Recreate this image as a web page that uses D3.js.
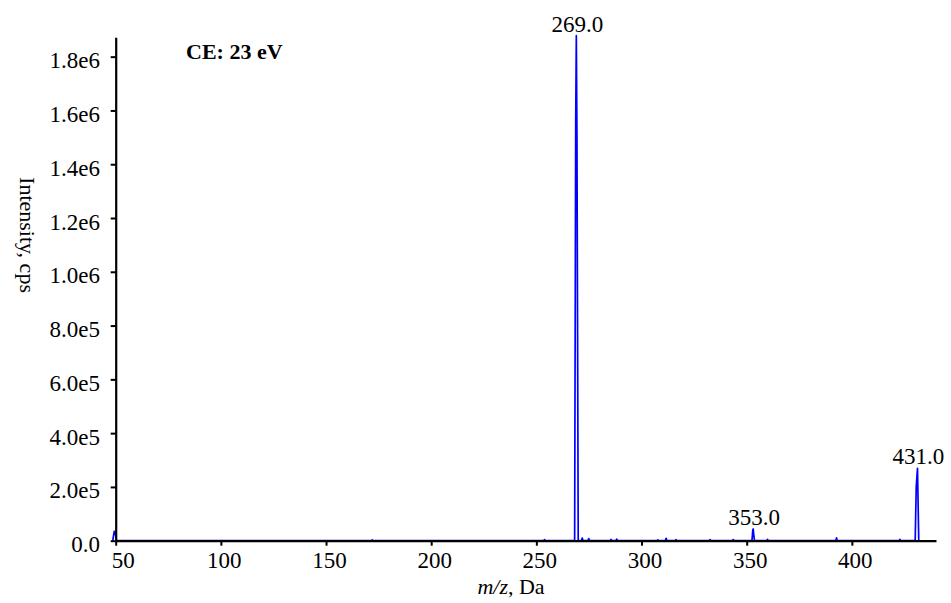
<!DOCTYPE html>
<html>
<head>
<meta charset="utf-8">
<script src="https://cdn.jsdelivr.net/npm/d3@7"></script>
<style>
  html, body { margin: 0; padding: 0; background: #fff; }
  svg text { font-family: "Liberation Serif", "Times New Roman", serif; fill: #000; }
</style>
</head>
<body>
<svg id="chart"></svg>
<script>
// Product-ion spectrum, profile points (m/z, cps)
const mz = [
  48.6, 49.3, 49.8, 50.4,
  171.6, 172.0, 172.4,
  253.5, 253.9, 254.3,
  268.2, 268.7, 269.0, 269.3, 269.9,
  271.4, 271.8, 272.2,
  274.5, 274.9, 275.3,
  285.1, 285.5, 285.9,
  287.8, 288.2, 288.6,
  307.3, 307.7, 308.1,
  311.3, 311.7, 312.1,
  316.0, 316.4, 316.8,
  332.2, 332.6, 333.0,
  343.2, 343.6, 344.0,
  352.5, 352.9, 353.1, 353.4, 353.7,
  359.6, 359.9, 360.2,
  392.4, 392.7, 393.0,
  422.5, 422.8, 423.1,
  430.1, 430.6, 431.2, 431.8
];
const intensity = [
  0, 35000, 28000, 0,
  0, 3000, 0,
  0, 4000, 0,
  0, 1550000, 1878000, 1500000, 0,
  0, 10000, 0,
  0, 8000, 0,
  0, 5000, 0,
  0, 6000, 0,
  0, 3000, 0,
  0, 9000, 0,
  0, 4000, 0,
  0, 4000, 0,
  0, 4000, 0,
  0, 40000, 43500, 20000, 0,
  0, 5000, 0,
  0, 11000, 0,
  0, 5000, 0,
  0, 200000, 269000, 0
];

// annotated peaks
const peakLabels = ["269.0", "353.0", "431.0"];
const peakMz = [269.0, 353.1, 431.2];

const xTicks = [50, 100, 150, 200, 250, 300, 350, 400];
const xMinor = d3.range(60, 441, 10).filter(v => v % 50 !== 0);
const yTicks = [0, 2e5, 4e5, 6e5, 8e5, 1e6, 1.2e6, 1.4e6, 1.6e6, 1.8e6];
const yMinor = [1e5, 3e5, 5e5, 7e5, 9e5, 1.1e6, 1.3e6, 1.5e6, 1.7e6];

const W = 951, H = 603;
const svg = d3.select("#chart").attr("width", W).attr("height", H);

const x = d3.scaleLinear().domain([50, 440]).range([115.7, 936]);
const y = d3.scaleLinear().domain([0, 1.872e6]).range([540.7, 37.3]);

const fmtY = v => {
  if (v === 0) return "0.0";
  const e = Math.floor(Math.log10(v));
  return (v / Math.pow(10, e)).toFixed(1) + "e" + e;
};

// spectrum
const pts = mz.map((m, i) => ({ mz: m, v: intensity[i] }));
svg.append("path").datum(pts)
  .attr("fill", "none").attr("stroke", "#0000ff").attr("stroke-width", 1.7)
  .attr("stroke-linejoin", "round")
  .attr("d", d3.line().x(d => x(d.mz)).y(d => y(d.v)));

// axes
const fs = "23px";
const gx = svg.append("g").attr("transform", `translate(0,${y(0)})`);
gx.call(d3.axisBottom(x).tickValues(xMinor).tickSize(3).tickSizeOuter(0).tickFormat(""));
gx.call(d3.axisBottom(x).tickValues(xTicks).tickSize(5).tickSizeOuter(0).tickFormat(d3.format("d")));
gx.selectAll("text").attr("y", 27).attr("dy", null)
  .attr("dx", d => d === 50 ? 7 : 3).style("font-size", fs);

const gy = svg.append("g").attr("transform", `translate(${x(50)},0)`);
gy.call(d3.axisLeft(y).tickValues(yMinor).tickSize(3).tickSizeOuter(0).tickFormat(""));
gy.call(d3.axisLeft(y).tickValues(yTicks).tickSize(5).tickSizeOuter(0).tickFormat(fmtY));
gy.selectAll("text").attr("x", -15.7).attr("dy", null).attr("y", 11).style("font-size", fs);

svg.selectAll(".domain").attr("stroke", "#000").attr("stroke-width", 2.2);
svg.selectAll(".tick line").attr("stroke", "#000").attr("stroke-width", 2);

// peak labels
peakMz.forEach((m, i) => {
  const top = d3.max(pts.filter(p => Math.abs(p.mz - m) < 0.05), p => p.v);
  svg.append("text")
    .attr("x", x(m) + 1).attr("y", y(top) - 4)
    .attr("text-anchor", "middle").style("font-size", fs)
    .text(peakLabels[i]);
});

// annotation
svg.append("text").attr("x", 186).attr("y", 59)
  .style("font-size", "22px").style("font-weight", "bold")
  .text("CE: 23 eV");

// axis titles
const xt = svg.append("text").attr("x", 511).attr("y", 594)
  .attr("text-anchor", "middle").style("font-size", "22px");
xt.append("tspan").style("font-style", "italic").text("m/z");
xt.append("tspan").text(", Da");

svg.append("text")
  .attr("transform", "translate(20,235) rotate(90)")
  .attr("text-anchor", "middle").style("font-size", "22px")
  .text("Intensity, cps");
</script>
</body>
</html>
